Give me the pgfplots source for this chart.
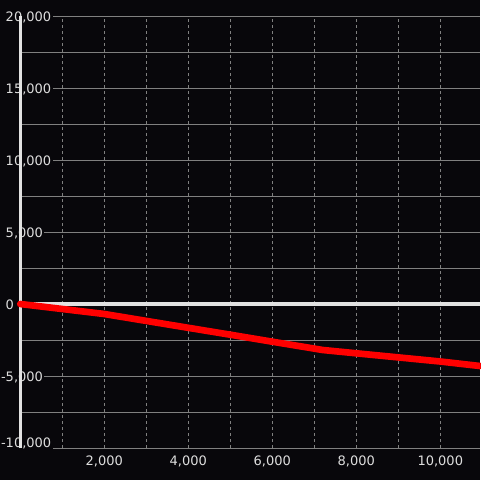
\documentclass[border=0pt]{standalone}
\usepackage{pgfplots}
\pgfplotsset{compat=1.18}
\usepackage{fontspec}
\setmainfont{DejaVu Sans}
\definecolor{bg}{RGB}{8,7,11}
\definecolor{gridc}{RGB}{128,128,128}
\definecolor{axc}{RGB}{226,226,226}
\definecolor{txt}{RGB}{222,222,222}
\begin{document}
\begin{tikzpicture}
\useasboundingbox (0,0) rectangle (360pt,360pt);
\fill[bg] (0,0) rectangle (360pt,360pt);
\begin{axis}[
  at={(15.2pt,24pt)}, anchor=south west,
  width=344.8pt, height=324pt, scale only axis,
  xmin=0, xmax=10945, ymin=-10000, ymax=20000,
  clip=false,
  scaled ticks=false,
  axis line style={draw=none},
  major tick length=0pt, minor tick length=0pt,
  xtick={2000,4000,6000,8000,10000},
  xticklabels={{2,000},{4,000},{6,000},{8,000},{10,000}},
  minor xtick={1000,3000,5000,7000,9000},
  ytick={-10000,-5000,0,5000,10000,15000,20000},
  yticklabels={{\raisebox{4.5pt}{\llap{-}10,000}},{\llap{-}5,000},{0},{5,000},{10,000},{15,000},{20,000}},
  minor ytick={-7500,-2500,2500,7500,12500,17500},
  grid=both,
  major x grid style={gridc, line width=0.75pt, dash pattern=on 2.25pt off 2.25pt},
  minor x grid style={gridc, line width=0.75pt, dash pattern=on 2.25pt off 2.25pt},
  major y grid style={gridc, line width=0.75pt},
  minor y grid style={gridc, line width=0.75pt},
  extra x ticks={0}, extra x tick labels={},
  extra x tick style={grid=major, major x grid style={axc, line width=2.25pt, solid}},
  extra y ticks={0}, extra y tick labels={},
  extra y tick style={grid=major, major y grid style={axc, line width=2.5pt}, yticklabel style={fill=none}},
  tick label style={font=\fontsize{9.75}{11}\selectfont, text=txt},
  yticklabel style={anchor=base west, xshift=-12.1pt, yshift=-4.1pt, fill=bg, inner sep=1pt},
  xticklabel style={anchor=base, yshift=-12.75pt, inner sep=0pt},
]
\addplot[red, line width=5pt, line join=round, line cap=round] coordinates {
(0,0) (1000,-347) (2000,-694) (3000,-1174) (4000,-1653) (5000,-2132)
(6000,-2618) (7000,-3097) (7200,-3194) (8000,-3424) (9000,-3708)
(10000,-3993) (10945,-4306)};
\end{axis}
\end{tikzpicture}
\end{document}
